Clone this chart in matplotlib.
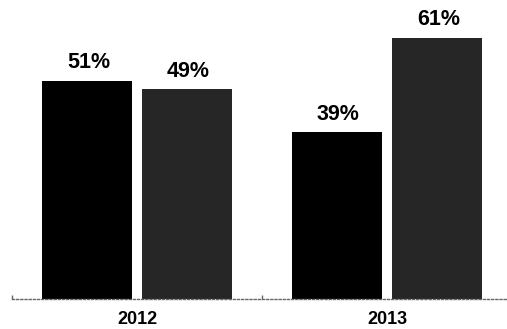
import matplotlib
matplotlib.use("Agg")
import matplotlib.pyplot as plt
import numpy as np

years = ["2012", "2013"]
series_a = [51, 39]   # black bars
series_b = [49, 61]   # dark grey bars
colors = ["#000000", "#262626"]

W, H = 507, 329
fig = plt.figure(figsize=(W / 100, H / 100), dpi=100)
left = 12 / W
bottom = (H - 299) / H
ax = fig.add_axes([left, bottom, 1 - left, 299 / H])

x = np.arange(len(years))
width = 0.36
offset = 0.2
bars_a = ax.bar(x - offset, series_a, width, color=colors[0], zorder=2)
bars_b = ax.bar(x + offset, series_b, width, color=colors[1], zorder=2)

for bars, vals in ((bars_a, series_a), (bars_b, series_b)):
    for b, v in zip(bars, vals):
        ax.annotate(f"{v}%", (b.get_x() + b.get_width() / 2, v),
                    xytext=(1, 5.5), textcoords="offset points",
                    ha="center", va="bottom", fontsize=15.5,
                    fontweight="bold", family="Liberation Sans", color="#000000")

ax.set_xlim(-0.5, 1.48)
ax.set_ylim(0, 69.9)

for s in ("top", "right", "left"):
    ax.spines[s].set_visible(False)
ax.spines["bottom"].set_linestyle((0, (1.5, 1.5)))
ax.spines["bottom"].set_color("#666666")
ax.spines["bottom"].set_linewidth(1.0)

ax.set_yticks([])
ax.set_xticks(x)
ax.set_xticklabels(years, fontsize=13, fontweight="bold", family="Liberation Sans")
ax.tick_params(axis="x", which="major", length=0, pad=9)
ax.set_xticks([-0.5, 0.5], minor=True)
ax.tick_params(axis="x", which="minor", length=3, direction="in", color="#666666", width=1)

fig.savefig("out.png", dpi=100)
